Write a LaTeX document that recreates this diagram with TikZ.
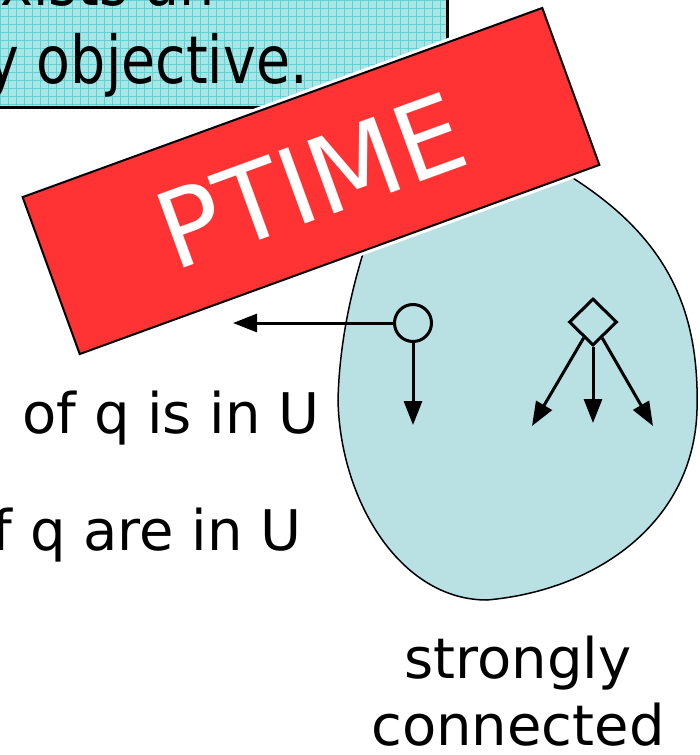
\documentclass[tikz,border=0pt]{standalone}
\usepackage{fontspec}
\setmainfont{DejaVu Sans}
\newfontfamily\narrowfont[FakeStretch=0.84]{DejaVu Sans}
\usetikzlibrary{arrows.meta,shapes.geometric}
\definecolor{slideCyan}{RGB}{166,230,230}
\definecolor{slideGrid}{RGB}{100,208,210}
\definecolor{slideRed}{RGB}{255,51,51}
\definecolor{slideBlue}{RGB}{185,224,227}

\begin{document}
\begin{tikzpicture}[
  x=1pt, y=-1pt,
  big/.style={font=\fontsize{56}{67}\selectfont, inner sep=0pt},
  note/.style={font=\narrowfont\fontsize{66}{78}\selectfont, inner sep=0pt},
  state/.style={draw, line width=3pt, inner sep=0pt},
  move/.style={-{Triangle[length=24pt,width=18pt]}, line width=3pt}
]
  \useasboundingbox (0,0) rectangle (700,755);
  \clip (0,0) rectangle (700,755);
  % note box, cut by the frame
  \begin{scope}
    \clip (-10,-10) rectangle (447,107);
    \fill[slideCyan] (-10,-10) rectangle (447,107);
    \draw[slideGrid, line width=0.6pt, step=8pt] (-10,-10) grid (447,107);
  \end{scope}
  \draw[line width=3pt] (-10,-10) rectangle (447,107);
  \node[note, anchor=base east] (goalA) at (215,5) {exists an};
  \node[note, anchor=base east] (goalB) at (308,83) {y objective.};

  % the component
  \draw[fill=slideBlue, line width=1.5pt]
    (560,170) .. controls (660,230) and (700,300) .. (697,410)
    .. controls (694,520) and (600,590) .. (487,600)
    .. controls (400,600) and (340,500) .. (338,400)
    .. controls (340,320) and (362,250) .. (385,190) -- cycle;

  \node[draw, line width=2pt, fill=slideRed, preaction={draw=white, line width=8pt},
    minimum width=553pt, minimum height=167pt, rotate=20, inner sep=0pt,
    text=white, font=\fontsize{106}{120}\selectfont] (ptime) at (311,181) {PTIME};

  % states and moves
  \node[state, circle, minimum size=37pt] (q) at (413,323) {};
  \node[state, diamond, minimum width=48pt, minimum height=47pt] (p) at (593,322) {};
  \coordinate (qleft) at (233,323);
  \coordinate (qdown) at (413,425);
  \coordinate (pleft) at (532,426);
  \coordinate (pmid) at (593,423);
  \coordinate (pright) at (653,426);
  \draw[move] (q) -- (qleft);
  \draw[move] (q) -- (qdown);
  \draw[move] (p) -- (pleft);
  \draw[move] (p) -- (pmid);
  \draw[move] (p) -- (pright);

  \node[big, anchor=base east] (one) at (320,433) {of q is in U};
  \node[big, anchor=base east] (all) at (302,550) {of q are in U};
  \node[big, align=center, anchor=base] (scc) at (518,745) {strongly\\connected};
\end{tikzpicture}
\end{document}
